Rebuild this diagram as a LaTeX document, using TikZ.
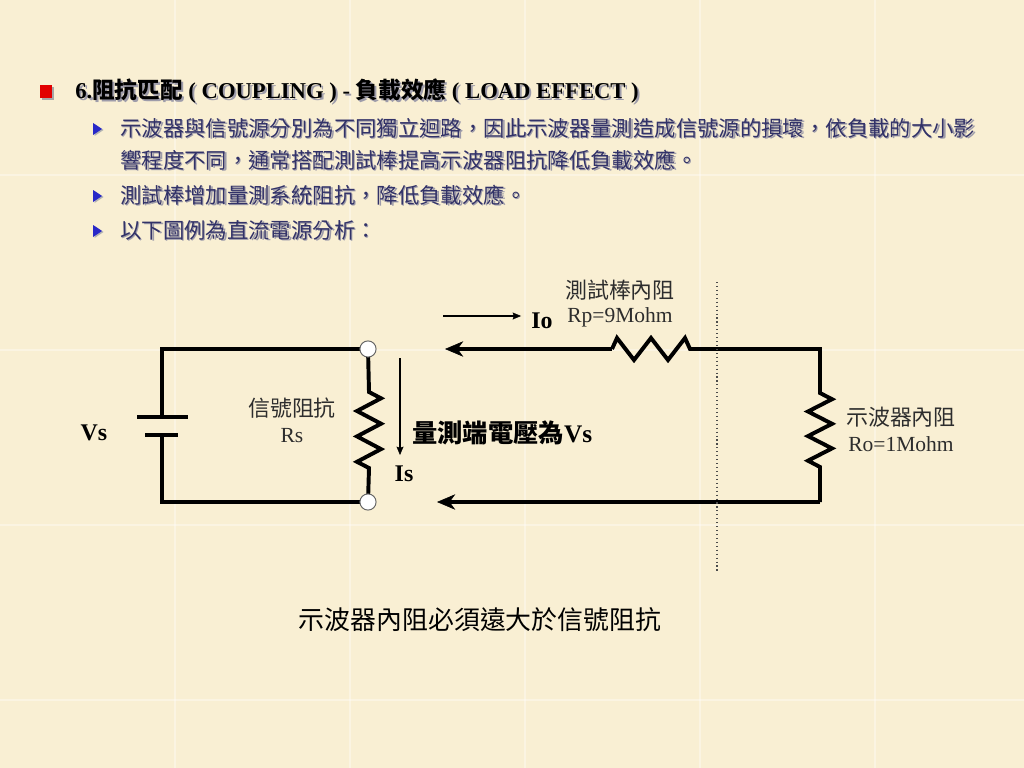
\documentclass[tikz,border=0pt]{standalone}
\usepackage{fontspec}
\setmainfont{Liberation Serif}
\newfontfamily\cjk{Noto Sans CJK TC}
\usetikzlibrary{arrows.meta}
\newcommand\zh[1]{{\cjk #1}}
\definecolor{bg}{RGB}{249,239,211}
\definecolor{bodyc}{RGB}{50,50,104}
\definecolor{shc}{RGB}{158,156,170}
\definecolor{bulred}{RGB}{226,0,0}
\definecolor{bulblue}{RGB}{40,40,200}
\definecolor{lblc}{RGB}{45,45,45}
\tikzset{
  seam/.style={white,opacity=0.35,line width=1pt},
  titlet/.style={anchor=west,inner sep=0,font=\bfseries\fontsize{16.1}{19}\selectfont,text=black},
  titlesh/.style={titlet,text=shc},
  body/.style={anchor=west,inner sep=0,font=\cjk\fontsize{15.2}{18}\selectfont,text=bodyc},
  bodysh/.style={body,text=shc},
  wire/.style={line width=2.8pt,black},
  bigarrow/.style={wire,-{Stealth[length=13pt,width=11pt,inset=4pt,line width=0.4pt]}},
  thinarrow/.style={line width=1pt,black,-{Stealth[length=6pt,width=5pt,inset=1pt,line width=0.3pt]}},
  term/.style={circle,draw=black!60,fill=white,line width=0.7pt,minimum size=11.5pt,inner sep=0},
  lblzh/.style={inner sep=0,font=\cjk\fontsize{15.6}{18}\selectfont,text=lblc},
  lblla/.style={inner sep=0,font=\fontsize{15.3}{18}\selectfont,text=lblc},
  boldla/.style={inner sep=0,font=\bfseries\fontsize{17}{20}\selectfont,text=black},
  probe/.style={dotted,line width=0.8pt,black!70}
}
\begin{document}
\begin{tikzpicture}[x=0.025cm,y=-0.025cm]
\fill[bg] (0,0) rectangle (1024,768);
\useasboundingbox (0,0) rectangle (1024,768);
\foreach \x in {175,350,525,700,875} \draw[seam] (\x,0) -- (\x,768);
\foreach \y in {175,350,525,700} \draw[seam] (0,\y) -- (1024,\y);

% title
\fill[black!35] (42,87) rectangle (54,100);
\fill[bulred] (40,85) rectangle (52,98);
\node[titlesh] (titlesh) at (77,93) {6.\zh{阻抗匹配}\ ( COUPLING ) - \zh{負載效應}\ ( LOAD EFFECT )};
\node[titlet] (title) at (75,91) {6.\zh{阻抗匹配}\ ( COUPLING ) - \zh{負載效應}\ ( LOAD EFFECT )};

% bullets
\foreach \y in {129,196,231}{
  \fill[black!30] (94.5,\y-5) -- (94.5,\y+7) -- (103.5,\y+1) -- cycle;
  \fill[bulblue] (93,\y-6) -- (93,\y+6) -- (102,\y) -- cycle;
}
\node[bodysh] (l1s) at (121.5,129.5) {示波器與信號源分別為不同獨立迴路，因此示波器量測造成信號源的損壞，依負載的大小影};
\node[body] (l1) at (120,128) {示波器與信號源分別為不同獨立迴路，因此示波器量測造成信號源的損壞，依負載的大小影};
\node[bodysh] (l2s) at (121.5,161.5) {響程度不同，通常搭配測試棒提高示波器阻抗降低負載效應。};
\node[body] (l2) at (120,160) {響程度不同，通常搭配測試棒提高示波器阻抗降低負載效應。};
\node[bodysh] (l3s) at (121.5,196.5) {測試棒增加量測系統阻抗，降低負載效應。};
\node[body] (l3) at (120,195) {測試棒增加量測系統阻抗，降低負載效應。};
\node[bodysh] (l4s) at (121.5,231.5) {以下圖例為直流電源分析：};
\node[body] (l4) at (120,230) {以下圖例為直流電源分析：};

% circuit coordinates
\coordinate (tl) at (162,349);
\coordinate (bl) at (162,502);
\coordinate (batt) at (162,417);
\coordinate (batb) at (162,435);
\coordinate (rs1) at (369,392);
\coordinate (rs2) at (369,468);
\coordinate (a1) at (445,349);
\coordinate (a2) at (437,502);
\coordinate (rp1) at (612,349);
\coordinate (rp2) at (690,349);
\coordinate (tr) at (820,349);
\coordinate (br) at (820,502);
\coordinate (ro1) at (820,393);
\coordinate (ro2) at (820,467);
\coordinate (is1) at (400,358);
\coordinate (is2) at (400,455);
\coordinate (io1) at (443,316);
\coordinate (io2) at (521,316);
\coordinate (d1) at (717,282);
\coordinate (d2) at (717,572);

% source loop
\draw[wire] (batt) -- (tl) -- (368,349);
\draw[wire] (batb) -- (bl) -- (368,502);
\draw[wire] (137,417) -- (188,417);
\draw[wire] (145,435) -- (178,435);
\draw[wire] (368,349) -- (rs1) -- ++(12,6.3) -- ++(-24,12.7) -- ++(24,12.7) -- ++(-24,12.7) -- ++(24,12.7) -- ++(-24,12.7) -- (rs2) -- (368,502);
\node[term] (c1) at (368,349) {};
\node[term] (c2) at (368,502) {};

% scope loop
\draw[bigarrow] (rp1) -- (a1);
\draw[wire] (rp1) -- ++(5,-11) -- ++(17,22) -- ++(17,-22) -- ++(17,22) -- ++(17,-22) -- (rp2) -- (tr) -- (ro1)
  -- ++(12,6.2) -- ++(-24,12.3) -- ++(24,12.3) -- ++(-24,12.3) -- ++(24,12.3) -- ++(-24,12.3) -- (ro2) -- (br);
\draw[bigarrow] (br) -- (a2);

% small arrows
\draw[thinarrow] (is1) -- (is2);
\draw[thinarrow] (io1) -- (io2);

% probe boundary
\draw[probe] (d1) -- (d2);

% labels
\node[boldla] (vs) at (94,433) {Vs};
\node[lblzh] (rsz) at (292,408) {信號阻抗};
\node[lblla] (rsl) at (292,436) {Rs};
\node[boldla,anchor=west,font=\bfseries\fontsize{18}{21}\selectfont] (meas) at (412,433) {\zh{量測端電壓為}Vs};
\node[boldla] (islab) at (404,474) {Is};
\node[boldla] (iolab) at (542,321) {Io};
\node[lblzh] (rpz) at (620,290) {測試棒內阻};
\node[lblla] (rpl) at (620,317) {Rp=9Mohm};
\node[lblzh] (roz) at (901,417) {示波器內阻};
\node[lblla] (rol) at (901,444) {Ro=1Mohm};
\node[inner sep=0,font=\cjk\fontsize{18.4}{22}\selectfont] (concl) at (480,620) {示波器內阻必須遠大於信號阻抗};
\end{tikzpicture}
\end{document}
